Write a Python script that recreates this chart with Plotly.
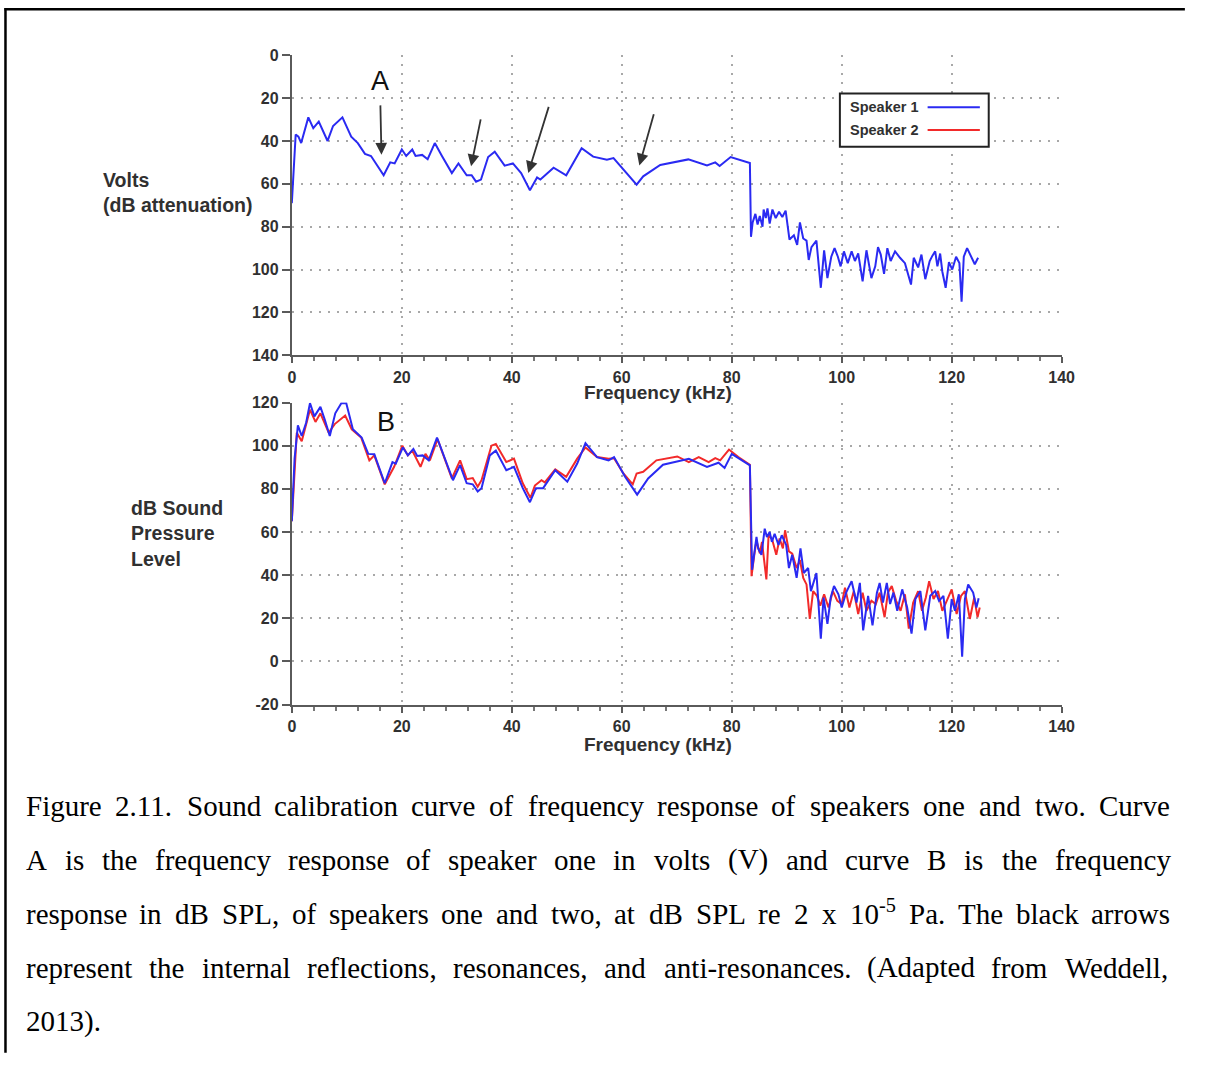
import plotly.graph_objects as go

# ---------------------------------------------------------------------------
# Data: frequency response of the two speakers
# ---------------------------------------------------------------------------
# Curve A - Speaker 1 drive level, dB attenuation (volts)
freq_a = [0, 0.3, 0.7, 1.2, 1.7, 3.0, 3.9, 4.9, 6.5, 7.5, 9.2, 10.8, 12.0, 13.3, 14.4,
          16.7, 17.9, 18.7, 20.0, 20.8, 21.9, 22.5, 23.7, 24.7, 26.0, 27.3, 29.1, 30.3,
          31.8, 32.7, 33.5, 34.4, 35.7, 36.9, 38.7, 40.2, 41.7, 43.3, 44.6, 45.2, 47.6,
          49.9, 52.7, 54.8, 57.3, 58.5, 62.7, 63.9, 67.0, 72.1, 75.5, 77.0, 77.8, 79.8,
          83.3, 83.5, 83.8, 84.3, 84.7, 85.1, 85.6, 85.8, 86.2, 86.5, 86.9, 87.4, 88.0,
          88.6, 89.2, 89.8, 90.5, 91.3, 91.9, 92.4, 93.0, 93.6, 94.0, 94.5, 95.4, 96.2,
          96.8, 97.4, 98.1, 98.7, 99.3, 99.8, 100.4, 101.1, 101.8, 102.4, 103.0, 103.8,
          104.5, 105.4, 106.1, 106.6, 107.1, 107.7, 108.3, 108.9, 109.7, 110.6, 111.5,
          112.6, 113.1, 113.9, 114.5, 115.2, 116.0, 116.5, 117.0, 117.4, 117.9, 118.3,
          118.9, 119.5, 120.1, 120.8, 121.4, 121.8, 122.2, 122.8, 123.4, 124.2, 124.8]
volts_s1 = [69, 52, 37, 38, 41, 29, 34, 31, 40, 33, 29, 38, 41, 46, 47,
            56, 50, 50.5, 44, 47, 44, 47, 46.5, 48.5, 41, 47, 55, 50.5,
            56, 56, 59, 58, 47.5, 45, 51.5, 50.5, 55, 63, 57, 58, 52.5,
            56, 43.4, 47.3, 48.8, 48, 60.4, 56.5, 51.2, 48.6, 51.4, 50, 51.7, 47.5,
            50.3, 84.7, 78, 74, 79, 75, 80, 72, 76, 71.5, 78.5, 72, 76,
            73, 75.5, 72.5, 86, 84, 88.5, 78, 85.5, 86.5, 95.5, 89.5, 86.5, 108.5,
            91, 104, 94, 90, 94, 98.5, 91.5, 97, 91.5, 96, 92.5, 105.5,
            91, 104, 98.5, 89.5, 93, 102, 90, 96, 91.5, 94.5, 97,
            107, 94.5, 99, 93, 104.5, 96, 93.5, 91.5, 98.5, 92.5, 101,
            108.5, 96.5, 100, 94, 97, 115, 94, 90, 93, 97.5, 94.5]

# Curve B - Speaker 1, dB SPL
freq_b1 = [0, 0.5, 1.1, 1.8, 2.6, 3.3, 4.1, 5.2, 6.0, 6.9, 7.9, 9.0, 9.9, 11.1, 12.7,
           13.9, 15.0, 16.9, 18.3, 18.9, 20.2, 21.1, 22.1, 22.8, 23.8, 24.9, 26.4, 27.7,
           29.3, 30.6, 31.8, 32.9, 33.8, 34.5, 36.0, 37.1, 39.0, 40.4, 42.0, 43.3, 44.4,
           45.7, 47.9, 50.1, 51.9, 53.4, 55.5, 57.6, 58.6, 60.6, 62.8, 64.8, 67.5, 72.2,
           75.5, 77.6, 78.7, 80.0, 83.3, 83.7, 84.1, 84.5, 84.8, 85.4, 86.0, 86.4, 86.9,
           87.3, 87.8, 88.5, 89.1, 89.9, 90.4, 91.0, 91.8, 92.5, 93.1, 93.9, 94.4, 94.9,
           95.4, 96.2, 96.7, 97.4, 98.0, 98.6, 99.4, 100.0, 100.8, 101.8, 102.7, 103.3,
           103.9, 104.8, 105.6, 106.4, 106.9, 107.5, 108.2, 108.8, 109.4, 110.1, 111.0,
           111.9, 112.7, 113.4, 114.3, 115.2, 116.1, 117.0, 117.7, 118.5, 119.3, 120.0,
           120.6, 121.3, 121.9, 122.4, 123.0, 123.9, 124.5, 124.9]
spl_s1 = [65, 94, 109.4, 104.5, 110.6, 119.7, 113.6, 118, 112, 104.5, 115, 119.7, 119.7, 107.6, 103.8,
          96.2, 96, 82.6, 92.4, 91.7, 99.2, 95.5, 98.5, 95.2, 95.5, 93.2, 103.8, 94.7,
          84, 91, 82.6, 82.1, 78.8, 80.3, 95.5, 97.7, 88.6, 90.2, 80.3, 73.8, 80.3,
          80.3, 88.6, 83.3, 91.7, 101.2, 94.7, 93.2, 94.7, 85.6, 77.3, 84.8, 91.2, 93.9,
          90.2, 92.1, 89.7, 96.2, 90.9, 42.5, 51, 57.7, 52.4, 49.4, 61.5, 57.7, 60,
          55.4, 59.2, 54, 58.5, 54, 43.3, 49.4, 38.7, 52.4, 41, 43.3, 32.6, 36.4,
          41, 10.6, 29.6, 17.4, 29.6, 35, 31.1, 25, 31.9, 37.2, 27.3, 36.4,
          14.4, 30.4, 16.7, 31.9, 36.4, 27.3, 36.4, 26.6, 31.9, 23.5, 33.4,
          25, 12.9, 28.9, 32.6, 14.4, 30.4, 32.6, 28.1, 30.4, 10.6, 28.9,
          23.5, 31.1, 2.2, 28.9, 35.7, 31.9, 25, 29.3]

# Curve B - Speaker 2, dB SPL
freq_b2 = [0, 0.9, 1.8, 3.3, 4.3, 5.2, 6.7, 7.8, 9.7, 10.9, 12.6, 14.1, 15.0, 16.9, 18.6,
           20.1, 21.1, 21.9, 23.4, 24.3, 25.1, 26.5, 27.9, 29.1, 30.6, 31.8, 32.9, 33.8,
           34.5, 36.3, 37.1, 39.0, 40.4, 42.0, 43.4, 44.2, 45.4, 46.0, 47.9, 49.9, 51.9,
           53.4, 55.5, 57.6, 58.6, 60.3, 62.0, 62.7, 63.9, 66.3, 70.1, 72.2, 74.0, 75.8,
           77.0, 77.9, 79.5, 81.2, 83.3, 83.6, 84.1, 84.5, 85.1, 85.5, 86.3, 86.7, 87.3,
           88.1, 88.7, 89.3, 89.7, 90.4, 91.0, 91.8, 92.4, 93.0, 93.6, 94.2, 94.8, 95.5,
           96.1, 96.8, 97.6, 98.4, 99.2, 100.0, 100.6, 101.4, 102.2, 103.0, 103.8, 104.5,
           105.4, 106.2, 106.9, 107.8, 108.4, 109.1, 109.9, 110.7, 111.5, 112.2, 113.0,
           113.9, 114.6, 115.3, 115.9, 116.7, 117.5, 118.3, 119.1, 120.0, 120.9, 121.7,
           122.4, 123.3, 124.1, 124.7, 125.1]
spl_s2 = [65, 106, 102, 116.7, 111, 115, 106, 110, 114, 107.6, 103.8, 93.2, 95.5, 82.1, 90.2,
          100, 95.5, 97.7, 90.2, 96.2, 93.2, 103, 93.2, 84.8, 93.2, 84.5, 85, 81,
          84, 100, 100.8, 92.4, 94, 82.6, 75.8, 81.5, 84, 83, 89, 85.6, 94,
          99.2, 94.7, 94, 94.2, 87.1, 82.1, 87.1, 87.9, 93.2, 95, 92.4, 94.7, 92.4,
          94.2, 93.2, 98.2, 94.7, 91.2, 39.5, 49.4, 56.2, 50.1, 55.4, 38, 58.5, 57,
          49.4, 57, 52.4, 60.8, 51, 50, 43.3, 47, 38.7, 35.7, 19.7, 32.6, 30.4,
          25.8, 31.1, 25, 32.6, 28.1, 26.6, 34.2, 25, 32.6, 22, 31.9, 23.5,
          28.1, 26.6, 31.9, 20.5, 31.9, 34.9, 28.1, 23.5, 31.1, 15.2, 27.3,
          32.6, 23.5, 29.6, 37.2, 28.9, 32.6, 23.5, 28.1, 33.4, 22, 30.4,
          32.6, 19.7, 29.6, 20.5, 25]

# Reflection / resonance arrows on curve A: (tail kHz, tail dB, head kHz, head dB)
arrows_a = [(16.1, 22.7, 16.3, 46.4),
            (34.4, 29.2, 32.6, 51.8),
            (46.8, 23.4, 43.0, 54.9),
            (65.9, 26.8, 63.2, 51.4)]

freq_ticks = [0, 20, 40, 60, 80, 100, 120, 140]
atten_ticks = [0, 20, 40, 60, 80, 100, 120, 140]
spl_ticks = [-20, 0, 20, 40, 60, 80, 100, 120]
series_names = ["Speaker 1", "Speaker 2"]
caption_lines = [
    "Figure 2.11. Sound calibration curve of frequency response of speakers one and two. Curve",
    "A is the frequency response of speaker one in volts (V) and curve B is the frequency",
    "response in dB SPL, of speakers one and two, at dB SPL re 2 x 10<sup>-5</sup> Pa. The black arrows",
    "represent the internal reflections, resonances, and anti-resonances. (Adapted from Weddell,",
    "2013).",
]

# ---------------------------------------------------------------------------
# Page geometry: the figure sits inside the page body, which keeps its
# default 8 px margin, so layout is expressed in page pixels and converted.
# ---------------------------------------------------------------------------
PAGE_MARGIN = 8
W, H = 1206 - 2 * PAGE_MARGIN, 1070 - 2 * PAGE_MARGIN


def fx(px):
    return (px - PAGE_MARGIN) / W


def fy(py):
    return 1 - (py - PAGE_MARGIN) / H


SANS = "Liberation Sans, Arial, Helvetica, sans-serif"
SERIF = "Liberation Serif, Times New Roman, serif"
BLUE = "#2a2af2"
RED = "#f22a2a"
INK = "#303030"
AXIS = "#5a5a5a"

fig = go.Figure()

fig.add_trace(go.Scatter(x=freq_a, y=volts_s1, mode="lines", name=series_names[0],
                         line=dict(color=BLUE, width=2), xaxis="x", yaxis="y",
                         showlegend=False))
fig.add_trace(go.Scatter(x=freq_b2, y=spl_s2, mode="lines", name=series_names[1],
                         line=dict(color=RED, width=2), xaxis="x2", yaxis="y2",
                         showlegend=False))
fig.add_trace(go.Scatter(x=freq_b1, y=spl_s1, mode="lines", name=series_names[0],
                         line=dict(color=BLUE, width=2), xaxis="x2", yaxis="y2",
                         showlegend=False))

tickfont = dict(family=SANS, size=16, color=INK, weight="bold")
grid = dict(showgrid=True, gridcolor="#a8a8a8", gridwidth=2, griddash="2px,7px",
            zeroline=False, showline=True, linecolor=AXIS, linewidth=2,
            ticks="outside", tickcolor=AXIS, tickwidth=2, tickfont=tickfont)

xcommon = dict(range=[0, 140], tickvals=freq_ticks, ticklen=6,
               minor=dict(dtick=4, tick0=0, ticks="outside", ticklen=4,
                          tickcolor="#777777", tickwidth=1.5, showgrid=False),
               domain=[fx(300), fx(1081)], **grid)

fig.update_layout(
    width=W, height=H, autosize=False, margin=dict(l=0, r=0, t=0, b=0),
    paper_bgcolor="white", plot_bgcolor="white", showlegend=False,
    xaxis=dict(anchor="y", **xcommon),
    yaxis=dict(anchor="x", domain=[fy(361), fy(56)], range=[140, 0],
               tickvals=atten_ticks, ticktext=[str(v) for v in atten_ticks],
               ticklen=8, **grid),
    xaxis2=dict(anchor="y2", **xcommon),
    yaxis2=dict(anchor="x2", domain=[fy(716), fy(409)], range=[-20, 120],
                tickvals=spl_ticks, ticktext=[str(v) for v in spl_ticks],
                ticklen=8, **grid),
)

ann = []
shapes = []

# Axis titles
title_font = dict(family=SANS, size=19, color=INK, weight="bold")
for cy in (399, 757):
    ann.append(dict(xref="paper", yref="paper", x=fx(671), y=fy(cy), text="Frequency (kHz)",
                    showarrow=False, xanchor="center", yanchor="middle", font=title_font))
ann.append(dict(xref="paper", yref="paper", x=fx(106), y=fy(196), align="left",
                text="Volts<br>(dB attenuation)", showarrow=False,
                xanchor="left", yanchor="middle", font=dict(title_font, size=19.5)))
ann.append(dict(xref="paper", yref="paper", x=fx(135), y=fy(542), align="left",
                text="dB Sound<br>Pressure<br>Level", showarrow=False,
                xanchor="left", yanchor="middle", font=dict(title_font, size=19.5)))

# Curve labels
for lbl, lx, ly in (("A", 389, 82), ("B", 396, 429)):
    ann.append(dict(xref="paper", yref="paper", x=fx(lx), y=fy(ly), text=lbl,
                    showarrow=False, xanchor="center", yanchor="middle",
                    font=dict(family=SANS, size=27, color="#111111")))

# Arrows marking reflections / resonances
for tx, ty, hx, hy in arrows_a:
    ann.append(dict(xref="x", yref="y", axref="x", ayref="y", x=hx, y=hy, ax=tx, ay=ty,
                    text="", showarrow=True, arrowhead=2, arrowsize=1.3, arrowwidth=1.8,
                    arrowcolor="#333333", standoff=0))

# Legend box (text first, then line sample)
shapes.append(dict(type="rect", xref="paper", yref="paper", x0=fx(856), x1=fx(1007),
                   y0=fy(149), y1=fy(95), line=dict(color="#222222", width=2),
                   fillcolor="white", layer="above"))
for i, (name, col) in enumerate(zip(series_names, [BLUE, RED])):
    ly = 109 + 23 * i
    ann.append(dict(xref="paper", yref="paper", x=fx(864), y=fy(ly), text=name,
                    showarrow=False, xanchor="left", yanchor="middle",
                    font=dict(family=SANS, size=14.5, color=INK, weight="bold")))
    shapes.append(dict(type="line", xref="paper", yref="paper", x0=fx(945), x1=fx(998),
                       y0=fy(ly), y1=fy(ly), line=dict(color=col, width=2), layer="above"))

# Page frame (top and left rules)
shapes.append(dict(type="line", xref="paper", yref="paper", x0=fx(8.5), x1=fx(1206),
                   y0=fy(9.2), y1=fy(9.2), line=dict(color="black", width=2.5)))
shapes.append(dict(type="line", xref="paper", yref="paper", x0=fx(9.5), x1=fx(9.5),
                   y0=fy(8), y1=fy(1070), line=dict(color="black", width=2.5)))

# Caption: justified Times text, laid out word by word
TIMES_W = {
    " ": 250, "(": 333, ")": 333, ",": 250, "-": 333, ".": 250,
    "A": 722, "B": 667, "C": 667, "D": 722, "E": 611, "F": 556, "G": 722, "H": 722,
    "I": 333, "J": 389, "K": 722, "L": 611, "M": 889, "N": 722, "O": 722, "P": 556,
    "Q": 722, "R": 667, "S": 556, "T": 611, "U": 722, "V": 722, "W": 944, "X": 722,
    "Y": 722, "Z": 611, "a": 444, "b": 500, "c": 444, "d": 500, "e": 444, "f": 333,
    "g": 500, "h": 500, "i": 278, "j": 278, "k": 500, "l": 278, "m": 778, "n": 500,
    "o": 500, "p": 500, "q": 500, "r": 333, "s": 389, "t": 278, "u": 500, "v": 500,
    "w": 722, "x": 500, "y": 500, "z": 444,
}
CAP_SIZE = 29


def text_w(s, size):
    return sum(TIMES_W.get(c, 500) for c in s) * size / 1000


def word_w(word, size):
    if "<sup>" in word:
        pre, rest = word.split("<sup>")
        sup, post = rest.split("</sup>")
        return text_w(pre, size) + text_w(sup, size * 0.7) + text_w(post, size)
    return text_w(word, size)


left, right = 30, 1190
for li, line in enumerate(caption_lines):
    baseline = 829 + 55 * li
    words = line.split(" ")
    widths = [word_w(w, CAP_SIZE) for w in words]
    if li < len(caption_lines) - 1 and len(words) > 1:
        gap = (right - left - sum(widths)) / (len(words) - 1)
    else:
        gap = TIMES_W[" "] * CAP_SIZE / 1000
    x = left
    for w, ww in zip(words, widths):
        ann.append(dict(xref="paper", yref="paper", x=fx(x - 2), y=fy(baseline + 8),
                        text=w, showarrow=False, xanchor="left", yanchor="bottom",
                        font=dict(family=SERIF, size=CAP_SIZE, color="black")))
        x += ww + gap

fig.update_layout(annotations=ann, shapes=shapes)
fig.write_html("out.html")
